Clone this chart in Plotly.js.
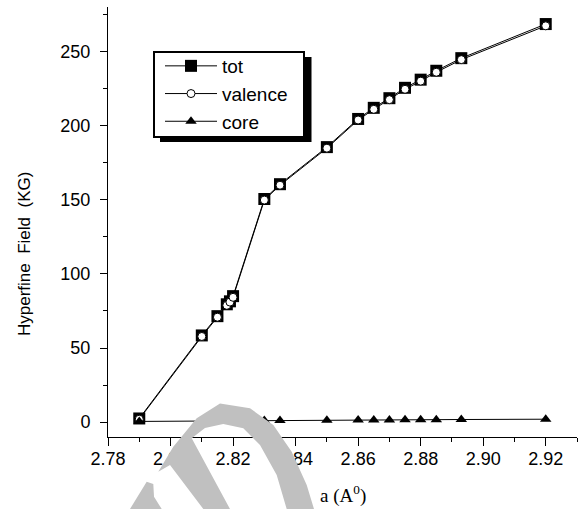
<!DOCTYPE html>
<html>
<head>
<meta charset="utf-8">
<script src="https://cdn.plot.ly/plotly-3.0.1.min.js"></script>
<style>html,body{margin:0;padding:0;background:#fff;}#chart{width:579px;height:509px;}</style>
</head>
<body>
<div id="chart"></div>
<script>
// ---- data ----
var latticeA = [2.79, 2.81, 2.815, 2.818, 2.819, 2.82, 2.83, 2.835, 2.85, 2.86, 2.865, 2.87, 2.875, 2.88, 2.885, 2.893, 2.92];
var totField = [2.5, 58.5, 71.5, 79.5, 81.5, 85.0, 150.5, 160.5, 185.5, 204.5, 212.0, 218.5, 225.5, 231.0, 237.0, 245.5, 268.5];
var valenceField = [2.0, 57.8, 70.8, 78.8, 81.0, 84.2, 149.8, 159.8, 184.8, 203.8, 211.0, 217.5, 224.5, 230.0, 236.0, 244.5, 267.3];
var coreField = [0.5, 0.8, 0.9, 1.0, 1.0, 1.0, 1.1, 1.1, 1.3, 1.4, 1.5, 1.5, 1.6, 1.6, 1.7, 1.8, 2.0];
var seriesNames = ['tot', 'valence', 'core'];
var xTickVals = [2.78, 2.80, 2.82, 2.84, 2.86, 2.88, 2.90, 2.92];
var xTickText = ['2.78', '2.80', '2.82', '2.84', '2.86', '2.88', '2.90', '2.92'];
var yTickVals = [0, 50, 100, 150, 200, 250];

// ---- layout helpers (pixel -> paper) ----
var L = 108, R = 577, T = 7, B = 437;
function px(x) { return (x - L) / (R - L); }
function py(y) { return (B - y) / (B - T); }
function path(pts) {
  return 'M' + pts.map(function (p) { return px(p[0]).toFixed(4) + ',' + py(p[1]).toFixed(4); }).join('L') + 'Z';
}

var font = 'Liberation Sans, Arial, sans-serif';

var traces = [
  {x: latticeA, y: totField, name: seriesNames[0], mode: 'lines+markers',
   line: {color: '#000', width: 1}, marker: {symbol: 'square', size: 12, color: '#000'}},
  {x: latticeA, y: valenceField, name: seriesNames[1], mode: 'lines+markers',
   line: {color: '#000', width: 1}, marker: {symbol: 'circle', size: 8, color: '#fff', line: {color: '#000', width: 1}}},
  {x: latticeA, y: coreField, name: seriesNames[2], mode: 'lines+markers',
   line: {color: '#000', width: 1}, marker: {symbol: 'triangle-up', size: 10, color: '#000'}}
];

var watermark = path([
  [203.3, 509], [170, 465], [158.3, 471.7], [173.3, 446.7], [196.7, 418.3], [220, 403.5],
  [250, 408.3], [273.3, 425], [291.7, 451.7], [306.7, 485], [314, 509],
  [286.7, 509], [276.7, 475], [260, 445], [243.3, 428.3], [223.3, 424], [205, 428], [191.7, 438.3],
  [230, 509]
]);
var serif = path([[130, 509], [146.7, 481.7], [153.3, 484], [154, 496.7], [161.7, 509]]);

var layout = {
  width: 579, height: 509,
  margin: {l: L, r: 579 - R, t: T, b: 509 - B},
  paper_bgcolor: '#fff', plot_bgcolor: '#fff',
  showlegend: true,
  xaxis: {
    range: [2.78, 2.93], showgrid: false, zeroline: false,
    showline: true, linecolor: '#000', linewidth: 1,
    ticks: 'outside', ticklen: 8, tickcolor: '#000', tickwidth: 1,
    tickvals: xTickVals, ticktext: xTickText, ticklabelstandoff: -3,
    tickfont: {family: font, size: 18, color: '#000'},
    minor: {dtick: 0.01, tick0: 2.78, ticks: 'outside', ticklen: 4, tickcolor: '#000', tickwidth: 1}
  },
  yaxis: {
    range: [-10, 280], showgrid: false, zeroline: false,
    showline: true, linecolor: '#000', linewidth: 1,
    ticks: 'outside', ticklen: 7, tickcolor: '#000', tickwidth: 1,
    tickvals: yTickVals, ticklabelstandoff: 6,
    tickfont: {family: font, size: 18, color: '#000'},
    minor: {dtick: 25, tick0: 0, ticks: 'outside', ticklen: 4, tickcolor: '#000', tickwidth: 1}
  },
  legend: {
    x: px(160), y: py(47), xanchor: 'left', yanchor: 'top',
    bgcolor: 'rgba(0,0,0,0)', borderwidth: 0,
    font: {family: font, size: 19, color: '#000'},
    itemwidth: 52, tracegroupgap: 0, traceorder: 'normal'
  },
  shapes: [
    {type: 'rect', xref: 'paper', yref: 'paper', x0: px(160), x1: px(311.5), y0: py(142), y1: py(57),
     fillcolor: '#000', line: {width: 0}, layer: 'above'},
    {type: 'rect', xref: 'paper', yref: 'paper', x0: px(154), x1: px(304), y0: py(137), y1: py(52),
     fillcolor: '#fff', line: {color: '#000', width: 2}, layer: 'above'},
    {type: 'path', xref: 'paper', yref: 'paper', path: watermark, fillcolor: '#c0c0c0', line: {width: 0}, layer: 'above'},
    {type: 'path', xref: 'paper', yref: 'paper', path: serif, fillcolor: '#c0c0c0', line: {width: 0}, layer: 'above'}
  ],
  annotations: [
    {text: 'Hyperfine&nbsp; Field&nbsp; (KG)', xref: 'paper', yref: 'paper', x: px(24), y: py(254),
     textangle: -90, showarrow: false, xanchor: 'center', yanchor: 'middle',
     font: {family: font, size: 17, color: '#000'}},
    {text: 'a (A<sup>0</sup>)', xref: 'paper', yref: 'paper', x: px(342.5), y: py(495),
     showarrow: false, xanchor: 'center', yanchor: 'middle',
     font: {family: 'Liberation Serif, Times New Roman, serif', size: 19, color: '#000'}}
  ]
};

Plotly.newPlot('chart', traces, layout, {staticPlot: true, displayModeBar: false});
</script>
</body>
</html>
